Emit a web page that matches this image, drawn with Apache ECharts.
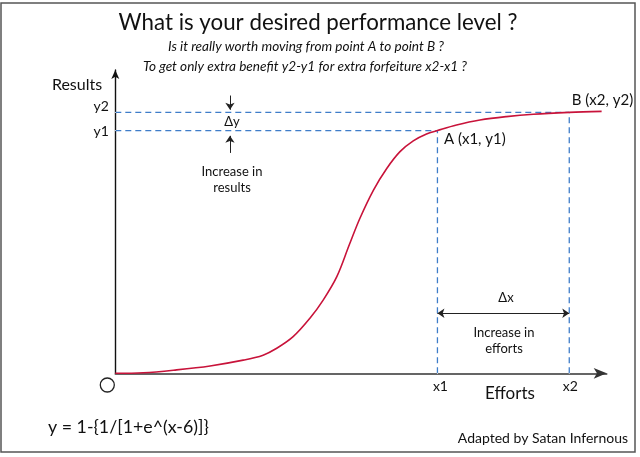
<!DOCTYPE html>
<html>
<head>
<meta charset="utf-8">
<script src="https://cdn.jsdelivr.net/npm/echarts@6/dist/echarts.min.js"></script>
<style>html,body{margin:0;padding:0;background:#fff}#c{width:640px;height:457px}</style>
</head>
<body>
<div id="c"></div>
<script>
// Curve (effort units, result units)
const curveX = [0, 0.72, 1.57, 2.43, 3.28, 3.79, 4.14, 4.56, 4.99, 5.33, 5.68, 6.00, 6.27, 6.62, 6.96, 7.30, 7.64, 7.98, 8.26, 8.75, 9.35, 10.03, 10.72, 11.64, 12.47];
const curveY = [0, 0.002, 0.013, 0.028, 0.050, 0.069, 0.095, 0.139, 0.209, 0.278, 0.367, 0.488, 0.588, 0.696, 0.778, 0.842, 0.883, 0.909, 0.922, 0.943, 0.962, 0.975, 0.984, 0.991, 0.995];
const pointA = [8.26, 0.922];   // (x1, y1)
const pointB = [11.64, 0.991];  // (x2, y2)
const xMax = 12.6, yMax = 1.152;
const deltaYArrowX = 2.94;
const deltaYTopFrom = 1.055, deltaYBottomFrom = 0.837;
const deltaXArrowY = 0.228;

const FONT = 'Lato, "Open Sans", sans-serif';
const BLUE = '#3f7dc9';
const dash = {color: BLUE, width: 1.3, type: [6, 4]};
const hidden = {color: 'transparent'};
const lbl = (text, pos, extra) => Object.assign({show: true, formatter: text, position: pos, color: '#111', fontFamily: FONT, fontSize: 14}, extra || {});

const chart = echarts.init(document.getElementById('c'), null, {renderer: 'canvas'});
chart.setOption({
  animation: false,
  grid: {left: 115.3, right: 33.3, top: 70, bottom: 83.7},
  xAxis: {type: 'value', min: 0, max: xMax, axisLabel: {show: false}, axisTick: {show: false}, splitLine: {show: false},
    axisLine: {lineStyle: {color: '#333', width: 1.6}, symbol: ['none', 'arrow'], symbolSize: [8, 13]}},
  yAxis: {type: 'value', min: 0, max: yMax, axisLabel: {show: false}, axisTick: {show: false}, splitLine: {show: false},
    axisLine: {lineStyle: {color: '#111', width: 1.4}, symbol: ['none', 'arrow'], symbolSize: [6, 9]}},
  series: [
    {type: 'line', symbolSize: 1, itemStyle: hidden, lineStyle: dash, z: 2,
      data: [{value: [0, pointB[1]], label: lbl('y2', 'left', {offset: [0, -6]})}, {value: pointB,
        label: lbl('B (x2, y2)', 'right', {offset: [-4, -12], fontSize: 15})}]},
    {type: 'line', symbolSize: 1, itemStyle: hidden, lineStyle: dash, z: 2,
      data: [{value: [0, pointA[1]], label: lbl('y1', 'left', {offset: [0, 1]})}, {value: pointA,
        label: lbl('A (x1, y1)', 'right', {offset: [0, 9], fontSize: 15})}]},
    {type: 'line', symbolSize: 1, itemStyle: hidden, lineStyle: dash, z: 2,
      data: [{value: [pointA[0], 0], label: lbl('x1', 'bottom', {offset: [3, 0]})}, pointA]},
    {type: 'line', symbolSize: 1, itemStyle: hidden, lineStyle: dash, z: 2,
      data: [{value: [pointB[0], 0], label: lbl('x2', 'bottom', {offset: [1, 0]})}, pointB]},
    {type: 'line', smooth: 0.35, showSymbol: false, z: 3,
      lineStyle: {color: '#c8133a', width: 1.6},
      data: curveX.map((x, i) => [x, curveY[i]])},
    {type: 'line', data: [], markLine: {
      silent: true, symbol: ['none', 'arrow'], symbolSize: 7, label: {show: false},
      lineStyle: {color: '#222', width: 1, type: 'solid'},
      data: [
        [{coord: [deltaYArrowX, deltaYTopFrom]}, {coord: [deltaYArrowX, pointB[1] + 0.01]}],
        [{coord: [deltaYArrowX, deltaYBottomFrom]}, {coord: [deltaYArrowX, pointA[1] - 0.02]}],
        [{coord: [pointA[0], deltaXArrowY], symbol: 'arrow'}, {coord: [pointB[0], deltaXArrowY]}]
      ]}}
  ],
  graphic: [
    {type: 'rect', shape: {x: 1, y: 3, width: 634, height: 449}, style: {fill: 'none', stroke: '#555', lineWidth: 1.5}},
    {type: 'text', style: {text: 'What is your desired performance level ?', x: 318, y: 23, textAlign: 'center', textVerticalAlign: 'middle', font: '22.3px ' + FONT, fill: '#111'}},
    {type: 'text', style: {text: 'Is it really worth moving from point A to point B ?', x: 306, y: 47, textAlign: 'center', textVerticalAlign: 'middle', font: 'italic 13.6px ' + FONT, fill: '#111'}},
    {type: 'text', style: {text: 'To get only extra benefit y2-y1 for extra forfeiture x2-x1 ?', x: 305, y: 67, textAlign: 'center', textVerticalAlign: 'middle', font: 'italic 13.6px ' + FONT, fill: '#111'}},
    {type: 'text', style: {text: 'Results', x: 77, y: 85, textAlign: 'center', textVerticalAlign: 'middle', font: '16px ' + FONT, fill: '#111'}},
    {type: 'text', style: {text: 'Efforts', x: 510, y: 394, textAlign: 'center', textVerticalAlign: 'middle', font: '17px ' + FONT, fill: '#111'}},
    {type: 'text', style: {text: 'Δy', x: 232, y: 122, textAlign: 'center', textVerticalAlign: 'middle', font: '13px ' + FONT, fill: '#111'}},
    {type: 'text', style: {text: 'Increase in\nresults', x: 232, y: 180, textAlign: 'center', textVerticalAlign: 'middle', font: '13px ' + FONT, fill: '#111', lineHeight: 16}},
    {type: 'text', style: {text: 'Δx', x: 506, y: 298, textAlign: 'center', textVerticalAlign: 'middle', font: '13px ' + FONT, fill: '#111'}},
    {type: 'text', style: {text: 'Increase in\nefforts', x: 504, y: 341, textAlign: 'center', textVerticalAlign: 'middle', font: '13px ' + FONT, fill: '#111', lineHeight: 16}},
    {type: 'circle', shape: {cx: 107.3, cy: 385, r: 7}, style: {fill: 'none', stroke: '#222', lineWidth: 1.3}},
    {type: 'text', style: {text: 'y = 1-{1/[1+e^(x-6)]}', x: 48, y: 427, textAlign: 'left', textVerticalAlign: 'middle', font: '17.8px ' + FONT, fill: '#111'}},
    {type: 'text', style: {text: 'Adapted by Satan Infernous', x: 628, y: 438, textAlign: 'right', textVerticalAlign: 'middle', font: '14px ' + FONT, fill: '#111'}}
  ]
});
</script>
</body>
</html>
